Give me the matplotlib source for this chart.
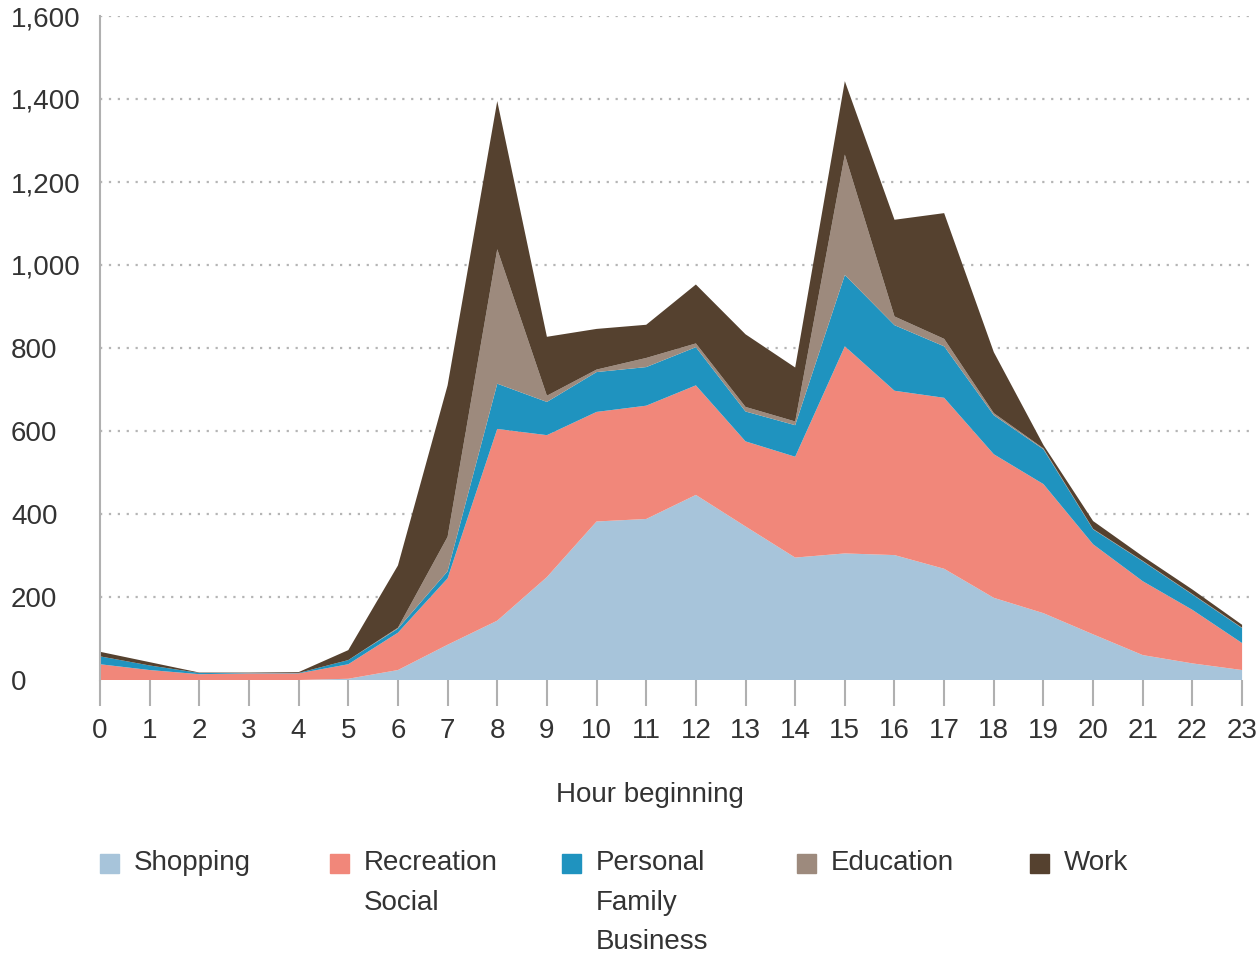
import numpy as np
import matplotlib
matplotlib.use('Agg')
import matplotlib.pyplot as plt
from matplotlib.patches import Rectangle

plt.rcParams['font.family'] = ['Liberation Sans', 'DejaVu Sans']

# trips by hour of day
hours = list(range(24))
shopping   = [0, 0, 0, 0, 0, 3, 24, 85, 143, 248, 382, 388, 446, 370, 295, 305, 301, 268, 198, 161, 110, 60, 40, 24]
recreation = [38, 24, 14, 16, 16, 35, 90, 160, 462, 342, 264, 273, 264, 205, 243, 499, 396, 412, 346, 311, 217, 178, 129, 65]
personal   = [19, 11, 3, 1, 1, 10, 10, 17, 109, 80, 96, 93, 92, 72, 76, 172, 158, 124, 94, 84, 36, 48, 37, 36]
education  = [0, 0, 0, 0, 0, 0, 2, 83, 324, 15, 6, 22, 9, 11, 9, 290, 21, 18, 5, 2, 1, 1, 1, 1]
work       = [11, 8, 1, 1, 2, 24, 150, 365, 357, 142, 98, 80, 142, 175, 130, 177, 233, 303, 147, 8, 19, 11, 11, 7]

labels = ['Shopping', 'Recreation\nSocial', 'Personal\nFamily\nBusiness', 'Education', 'Work']
colors = ['#a7c4da', '#f1877a', '#1f93bf', '#9d8a7d', '#55412f']
yticks = [0, 200, 400, 600, 800, 1000, 1200, 1400, 1600]

fig = plt.figure(figsize=(12.59, 9.6), dpi=100)
ax = fig.add_axes([100/1259, 1 - 680/960, 1155/1259, 664/960])

ax.stackplot(hours, shopping, recreation, personal, education, work,
             colors=colors, linewidth=0, zorder=2)

ax.set_xlim(0, 23.26)
ax.set_ylim(0, 1600)

for y in yticks[1:]:
    ax.axhline(y, color='#b5b5b5', linestyle=(0, (1, 3)), linewidth=1.6, zorder=1)

ax.set_yticks(yticks)
ax.set_yticklabels(['{:,}'.format(v) for v in yticks])
ax.set_xticks(hours)
ax.set_xticklabels([str(h) for h in hours])

for s in ['top', 'right', 'bottom']:
    ax.spines[s].set_visible(False)
ax.spines['left'].set_color('#b0b0b0')
ax.spines['left'].set_linewidth(1.5)

# y labels are left aligned near the figure edge (pad is in points)
ax.tick_params(axis='y', length=0, pad=64, labelsize=20, colors='#333333')
for t in ax.get_yticklabels():
    t.set_horizontalalignment('left')
ax.tick_params(axis='x', length=19, width=1.5, color='#b0b0b0', pad=8,
               labelsize=20, labelcolor='#333333', direction='out')

fig.text(650/1259, 1 - 795/960, 'Hour beginning', ha='center', va='center',
         fontsize=20, color='#333333')

# legend drawn by hand so the swatch sits beside the first line
leg_x = [100, 330, 562, 797, 1030]
for lx, lab, col in zip(leg_x, labels, colors):
    fig.patches.append(Rectangle((lx/1259, 1 - 873/960), 19/1259, 19/960,
                                 transform=fig.transFigure, color=col))
    fig.text((lx + 34)/1259, 1 - 850/960, lab, ha='left', va='top',
             fontsize=20, color='#333333', linespacing=1.68)

fig.savefig('out.png', dpi=100)
